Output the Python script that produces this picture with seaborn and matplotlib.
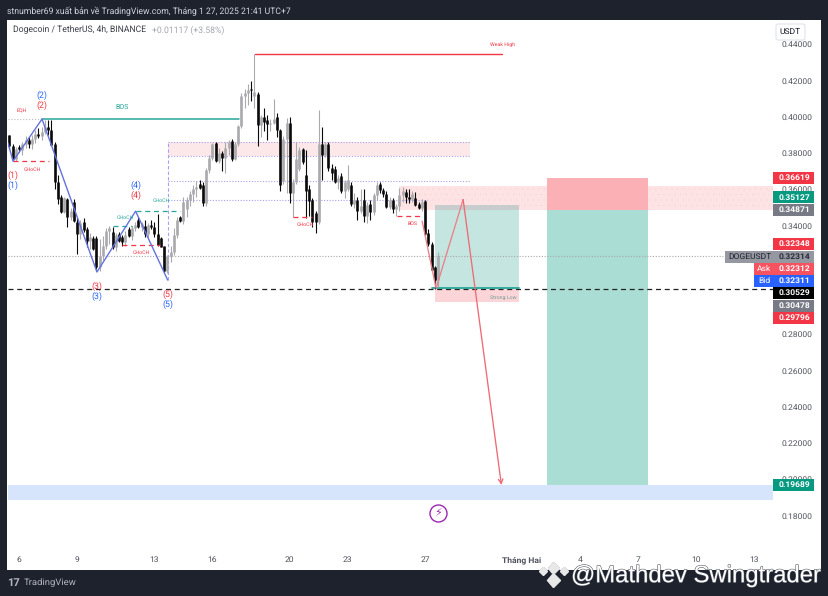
import numpy as np
import pandas as pd
import seaborn as sns
import matplotlib
matplotlib.use('Agg')
import matplotlib.pyplot as plt
import matplotlib.patheffects as pe
from matplotlib.patches import Rectangle, FancyBboxPatch
from matplotlib.lines import Line2D

# 4h candles
opens = [.3898, .3839, .3770, .3835, .3815, .3850, .3875, .3850, .3880, .3905, .3895, .3915, .3945, .3925, .3852,
         .3640, .3557, .3475, .3548, .3447, .3530, .3420, .3355, .3420, .3382, .3318, .3330, .3330, .3170, .3230,
         .3290, .3370, .3365, .3282, .3355, .3340, .3310, .3382, .3345, .3385, .3430, .3395, .3400, .3355, .3405,
         .3395, .3355, .3330, .3285, .3149, .3230, .3255, .3350, .3445, .3423, .3490, .3540, .3575, .3600, .3630,
         .3625, .3525, .3705, .3775, .3855, .3755, .3800, .3775, .3830, .3865, .3770, .3850, .3950, .4115, .4130,
         .4155, .4115, .4128, .3953, .4000, .3985, .3960, .3965, .4000, .3929, .3645, .3880, .3966, .3580, .3640,
         .3715, .3825, .3680, .3600, .3540, .3470, .3420, .3850, .3790, .3848, .3720, .3710, .3640, .3675, .3590,
         .3600, .3625, .3517, .3540, .3480, .3540, .3455, .3520, .3475, .3570, .3630, .3595, .3575, .3505, .3540,
         .3490, .3510, .3570, .3585, .3560, .3545, .3555, .3520, .3500, .3535, .3360, .3300, .3170, .3100]
highs = [.3901, .3850, .3835, .3845, .3860, .3895, .3890, .3900, .3925, .3940, .3945, .3985, .3985, .3985, .3860,
         .3680, .3570, .3560, .3555, .3500, .3545, .3440, .3430, .3440, .3390, .3360, .3345, .3345, .3325, .3345,
         .3385, .3400, .3390, .3360, .3365, .3350, .3370, .3395, .3400, .3420, .3450, .3420, .3430, .3415, .3430,
         .3420, .3465, .3340, .3290, .3240, .3290, .3385, .3445, .3455, .3560, .3560, .3590, .3625, .3645, .3650,
         .3640, .3720, .3790, .3855, .3860, .3830, .3810, .3860, .3875, .3880, .3860, .3955, .4130, .4155, .4180,
         .4200, .4347, .4140, .4010, .4050, .4010, .3990, .4100, .4020, .3935, .3895, .3995, .4000, .3660, .3860,
         .3835, .3830, .3820, .3625, .3550, .3480, .4040, .3945, .3860, .3860, .3740, .3730, .3680, .3690, .3650,
         .3735, .3640, .3580, .3560, .3600, .3600, .3530, .3540, .3580, .3640, .3640, .3610, .3590, .3560, .3555,
         .3520, .3610, .3615, .3600, .3600, .3590, .3585, .3530, .3545, .3540, .3380, .3310, .3180, .3255]
lows = [.3824, .3755, .3755, .3805, .3790, .3830, .3830, .3825, .3855, .3885, .3875, .3905, .3900, .3840, .3600,
        .3520, .3470, .3470, .3392, .3430, .3420, .3245, .3325, .3365, .3280, .3270, .3265, .3160, .3150, .3210,
        .3270, .3300, .3270, .3260, .3310, .3290, .3290, .3340, .3320, .3370, .3385, .3370, .3340, .3340, .3380,
        .3340, .3285, .3280, .3145, .3140, .3200, .3240, .3330, .3420, .3410, .3450, .3510, .3530, .3560, .3600,
        .3510, .3510, .3690, .3760, .3750, .3745, .3700, .3690, .3790, .3755, .3760, .3840, .3940, .4050, .4065,
        .4090, .4050, .3842, .3890, .3920, .3870, .3920, .3960, .3890, .3590, .3630, .3580, .3525, .3450, .3630,
        .3700, .3740, .3440, .3455, .3395, .3360, .3410, .3650, .3780, .3700, .3650, .3635, .3600, .3580, .3555,
        .3590, .3510, .3500, .3430, .3470, .3420, .3415, .3430, .3460, .3540, .3580, .3560, .3500, .3490, .3470,
        .3455, .3480, .3530, .3525, .3525, .3530, .3510, .3490, .3480, .3350, .3290, .3150, .3050, .3060]
closes = [.3839, .3770, .3825, .3822, .3850, .3875, .3850, .3880, .3905, .3895, .3915, .3945, .3925, .3845, .3640,
          .3545, .3475, .3550, .3447, .3480, .3428, .3355, .3415, .3375, .3318, .3340, .3272, .3171, .3230, .3290,
          .3370, .3385, .3282, .3350, .3318, .3310, .3350, .3345, .3385, .3405, .3395, .3410, .3355, .3405, .3392,
          .3355, .3291, .3282, .3149, .3230, .3255, .3350, .3430, .3423, .3530, .3540, .3575, .3600, .3615, .3610,
          .3525, .3705, .3775, .3850, .3755, .3800, .3775, .3830, .3860, .3770, .3850, .3950, .4115, .4130, .4150,
          .4148, .4140, .3953, .3998, .3973, .3960, .3965, .3990, .3925, .3622, .3880, .3966, .3580, .3640, .3770,
          .3815, .3750, .3590, .3535, .3420, .3420, .3850, .3790, .3850, .3720, .3690, .3640, .3665, .3590, .3640,
          .3650, .3517, .3540, .3480, .3510, .3455, .3515, .3475, .3570, .3625, .3595, .3575, .3505, .3540, .3490,
          .3510, .3570, .3590, .3560, .3545, .3575, .3515, .3500, .3530, .3355, .3300, .3155, .3100, .3231]
last_candle_day = 27.67

price_ticks = [.18, .20, .22, .24, .26, .28, .34, .36, .38, .40, .42, .44]
day_ticks = [6, 9, 13, 16, 20, 23, 27, 32, 35, 38, 41, 44]
day_labels = ['6', '9', '13', '16', '20', '23', '27', 'Tháng Hai', '4', '7', '10', '13']

# swing legs of the wave count
wave_days = [5.43, 5.69, 7.19, 10.03, 12.03, 13.69]
wave_prices = [.3856, .3756, .3988, .3144, .3480, .3100]

# planned path
plan_days = [26.85, 27.57, 28.97]
plan_prices = [.3425, .3054, .3544]
target_day = 30.95
target_price = .19689

# price tags on the right scale
tag_values = ['0.36619', '0.35127', '0.34871', '0.32348', '0.32314', '0.32312', '0.32311', '0.30529', '0.30478',
              '0.29796', '0.19689']
tag_colors = ['#f23645', '#089981', '#787b86', '#f23645', '#9598a1', '#f7525f', '#2962ff', '#000000', '#787b86',
              '#f23645', '#089981']
tag_ypx = [178, 197.5, 209.5, 244, 256.5, 269, 281, 293, 305.5, 317.5, 485]

BG = '#1e222d'
RED = '#f23645'
TEAL = '#26a69a'
BLUE = '#2962ff'
W, H = 829, 596


def px(x, y):
    return x / W, 1 - y / H


sns.set_theme(style='white')
plt.rcParams['font.family'] = ['Roboto', 'DejaVu Sans']
plt.rcParams['text.hinting'] = 'none'
plt.rcParams['hatch.linewidth'] = 0.3

df = pd.DataFrame({'open': opens, 'high': highs, 'low': lows, 'close': closes})
n = len(df)
df['day'] = last_candle_day - np.arange(n)[::-1] / 6
df['candle'] = np.arange(n)
df['dir'] = np.where(df['close'] >= df['open'], 'up', 'down')
wicks = df.melt(id_vars=['day', 'candle', 'dir'], value_vars=['low', 'high'], value_name='price')
bodies = df.melt(id_vars=['day', 'candle', 'dir'], value_vars=['open', 'close'], value_name='price')
palette = {'up': '#a9a9ae', 'down': '#0a0a0a'}

fig = plt.figure(figsize=(W / 100, H / 100), dpi=100, facecolor=BG)
fig.add_artist(Rectangle(px(7, 570), 814 / W, 550 / H, transform=fig.transFigure, facecolor='white', edgecolor='none',
                         zorder=-1))
ax = fig.add_axes([8 / W, 1 - 570 / H, 767 / W, 548 / H], facecolor='none')

# zones under the candles
def zone(d0, d1, p0, p1, color, z=1, **kw):
    ax.add_patch(Rectangle((d0, p0), d1 - d0, p1 - p0, facecolor=color, edgecolor='none', zorder=z, **kw))


zone(13.69, 29.33, .3784, .3861, '#fce8e8')
zone(25.66, 45.0, .3487, .3618, '#fde3e3')
ax.add_patch(Rectangle((25.66, .3487), 19.34, .0131, facecolor='none', edgecolor='#fad6d6', hatch='...', lw=0,
                       zorder=1.05))
zone(27.52, 31.87, .30529, .34871, '#c5e6e0')
zone(27.52, 31.87, .34871, .35127, '#c9cccc', z=1.1)
zone(27.52, 31.87, .29796, .30529, '#fcd5d8')
zone(33.31, 38.54, .34871, .36619, '#fbb0b6', z=1.2)
zone(33.31, 38.54, .19689, .34871, '#aaddd4', z=1.2)
zone(5.43, 45.0, .1888, .19689, '#d6e4fc')

# reference levels
ax.plot([5.43, 42.52], [.32314, .32314], color='#a8a8ac', lw=0.8, ls=(0, (1, 1.5)), zorder=1.5)
ax.plot([5.43, 45.0], [.30529, .30529], color='#222222', lw=0.9, ls=(0, (4, 3)), zorder=3)
for p, d1 in [(.3861, 29.33), (.3784, 29.33), (.3646, 29.33), (.3544, 27.11)]:
    ax.plot([13.69, d1], [p, p], color='#a9a1ee', lw=0.8, ls=(0, (1, 1.5)), zorder=1.5)
ax.plot([13.69, 13.69], [.3100, .3861], color='#a9a1ee', lw=0.8, ls=(0, (3, 2)), zorder=1.5)
ax.plot([5.43, 7.19], [.3988, .3988], color='#bdbdbd', lw=0.8, ls=':', zorder=1.5)
ax.plot([7.19, 17.4], [.3988, .3988], color=TEAL, lw=1.1, zorder=3)
ax.plot([18.21, 30.99], [.4347, .4347], color=RED, lw=1, zorder=3)
ax.plot([27.36, 31.87], [.3054, .3054], color=TEAL, lw=1.3, zorder=3)

# candles
sns.lineplot(data=wicks, x='day', y='price', units='candle', estimator=None, hue='dir', palette=palette, lw=0.8,
             legend=False, ax=ax, zorder=4, solid_capstyle='butt')
sns.lineplot(data=bodies, x='day', y='price', units='candle', estimator=None, hue='dir', palette=palette, lw=1.9,
             legend=False, ax=ax, zorder=4.1, solid_capstyle='butt')

# structure breaks
for d0, d1, p, c in [(5.69, 7.55, .3756, RED), (10.86, 11.85, .3398, TEAL), (12.05, 14.33, .3480, TEAL),
                     (11.33, 13.29, .3295, RED), (20.17, 21.16, .3450, RED), (25.55, 26.85, .3453, RED)]:
    ax.plot([d0, d1], [p, p], color=c, lw=0.9, ls=(0, (4, 3)), zorder=5)
for d, p, s, c in [(6.67, .3707, 'CHoCH', RED), (11.48, .3447, 'CHoCH', TEAL), (13.35, .3536, 'CHoCH', TEAL),
                   (12.31, .3249, 'CHoCH', RED), (20.79, .3404, 'CHoCH', RED), (26.33, .3409, 'BOS', RED),
                   (6.16, .4032, 'EQH', RED), (31.0, .4397, 'Weak High', RED), (31.04, .3005, 'Strong Low', '#6f9c96')]:
    ax.text(d, p, s, color=c, fontsize=3.8, ha='center', va='center', zorder=6)
ax.text(11.33, .4054, 'BOS', color=TEAL, fontsize=5, ha='center', va='center', zorder=6)

# wave count
sns.lineplot(x=wave_days, y=wave_prices, sort=False, estimator=None, color='#6472dc', lw=1.0, ax=ax, zorder=5)
for d, p, s, c in [(7.19, .4121, '(2)', BLUE), (7.19, .4065, '(2)', RED), (5.69, .3679, '(1)', RED),
                   (5.69, .3624, '(1)', BLUE), (10.03, .3066, '(3)', RED), (10.03, .3011, '(3)', BLUE),
                   (12.03, .3624, '(4)', BLUE), (12.03, .3569, '(4)', RED), (13.69, .3022, '(5)', RED),
                   (13.69, .2967, '(5)', BLUE)]:
    ax.text(d, p, s, color=c, fontsize=6.3, ha='center', va='center', zorder=6, clip_on=False)

# planned path
ax.plot(plan_days, plan_prices, color='#ec7f88', lw=0.95, zorder=5.5)
ax.annotate('', xy=(target_day, target_price), xytext=(plan_days[-1], plan_prices[-1]), zorder=5.5,
            arrowprops=dict(arrowstyle='->', color='#ee6a74', lw=0.95, mutation_scale=8, shrinkA=0, shrinkB=0))

# lightning mark
ax.scatter([27.66], [.1813], s=150, facecolor='white', edgecolor='#9c27b0', lw=1, zorder=6)
ax.text(27.66, .1813, '⚡', color='#9c27b0', fontsize=8, ha='center', va='center', family='DejaVu Sans', zorder=7)

ax.set_xlim(5.43, 45.1)
ax.set_ylim(.15001, .45236)
ax.set_xlabel('')
ax.set_ylabel('')
sns.despine(ax=ax, left=True, bottom=True, top=True, right=True)
ax.yaxis.tick_right()
ax.set_yticks(price_ticks)
ax.set_yticklabels([f'{v:.5f}' for v in price_ticks])
ax.set_xticks(day_ticks)
ax.set_xticklabels(day_labels)
ax.tick_params(axis='y', length=0, pad=5, labelsize=6.1, labelcolor='#50535e')
ax.tick_params(axis='x', length=0, pad=-10, labelsize=6.1, labelcolor='#50535e')
for lab in ax.get_xticklabels():
    if lab.get_text() == 'Tháng Hai':
        lab.set_fontweight('bold')

# tags on the price scale
for s, c, y in zip(tag_values, tag_colors, tag_ypx):
    x0, y0 = px(773.5, y + 6)
    fig.add_artist(Rectangle((x0, y0), 40.5 / W, 12 / H, transform=fig.transFigure, facecolor=c, edgecolor='none',
                             zorder=5))
    tx, ty = px(794, y)
    col = '#2a2e39' if s == '0.32314' else 'white'
    fig.text(tx, ty, s, color=col, fontsize=6.1, ha='center', va='center', fontweight='bold', zorder=6)
for s, c, x0, x1, y, col in [('DOGEUSDT', '#9598a1', 725.5, 773.5, 256.5, '#1e222d'), ('Ask', '#f7525f', 754, 773.5, 269, 'white'),
                             ('Bid', '#2962ff', 754.5, 773.5, 281, 'white')]:
    xa, ya = px(x0, y + 6)
    fig.add_artist(Rectangle((xa, ya), (x1 - x0) / W, 12 / H, transform=fig.transFigure, facecolor=c, edgecolor='none',
                             zorder=5))
    tx, ty = px((x0 + x1) / 2, y)
    fig.text(tx, ty, s, color=col, fontsize=6.1, ha='center', va='center', zorder=6)

# currency box
bx, by = px(776, 40)
fig.add_artist(FancyBboxPatch((bx, by), 29 / W, 16 / H, boxstyle='round,pad=0,rounding_size=0.003', transform=fig.transFigure,
                              facecolor='white', edgecolor='#e0e3eb', lw=0.8, zorder=5))
tx, ty = px(790.5, 32)
fig.text(tx, ty, 'USDT', color='#131722', fontsize=6.1, ha='center', va='center', zorder=6)

# header and legend text
tx, ty = px(7, 11)
fig.text(tx, ty, 'stnumber69 xuất bản về TradingView.com, Tháng 1 27, 2025 21:41 UTC+7', color='#d1d4dc', fontsize=6.25,
         va='center')
tx, ty = px(13, 30)
fig.text(tx, ty, 'Dogecoin / TetherUS, 4h, BINANCE', color='#3c3f4a', fontsize=6.25, va='center', zorder=6)
tx, ty = px(152, 30)
fig.text(tx, ty, '+0.01117 (+3.58%)', color='#a3a6af', fontsize=6.25, va='center', zorder=6)

# footer
tx, ty = px(7, 583)
fig.text(tx, ty, '17', color='#b2b5be', fontsize=8, fontweight='bold', va='center')
tx, ty = px(24, 583)
fig.text(tx, ty, 'TradingView', color='#b2b5be', fontsize=6.8, va='center')
tx, ty = px(571, 576)
fig.text(tx, ty, '@Mathdev Swingtrader', color='white', fontsize=17.2, family='Liberation Sans', va='center', zorder=10,
         path_effects=[pe.withStroke(linewidth=0.8, foreground='#555a66')])
for x, y, ms in [(543, 571, 4), (564, 571, 4), (553.5, 568, 6), (553.5, 580, 7)]:
    mx, my = px(x, y)
    fig.add_artist(Line2D([mx], [my], marker='D', ms=ms, color='#e8e8e8', transform=fig.transFigure, zorder=10,
                          path_effects=[pe.withStroke(linewidth=0.8, foreground='#555a66')]))

fig.savefig('out.png', dpi=100, facecolor=BG)
